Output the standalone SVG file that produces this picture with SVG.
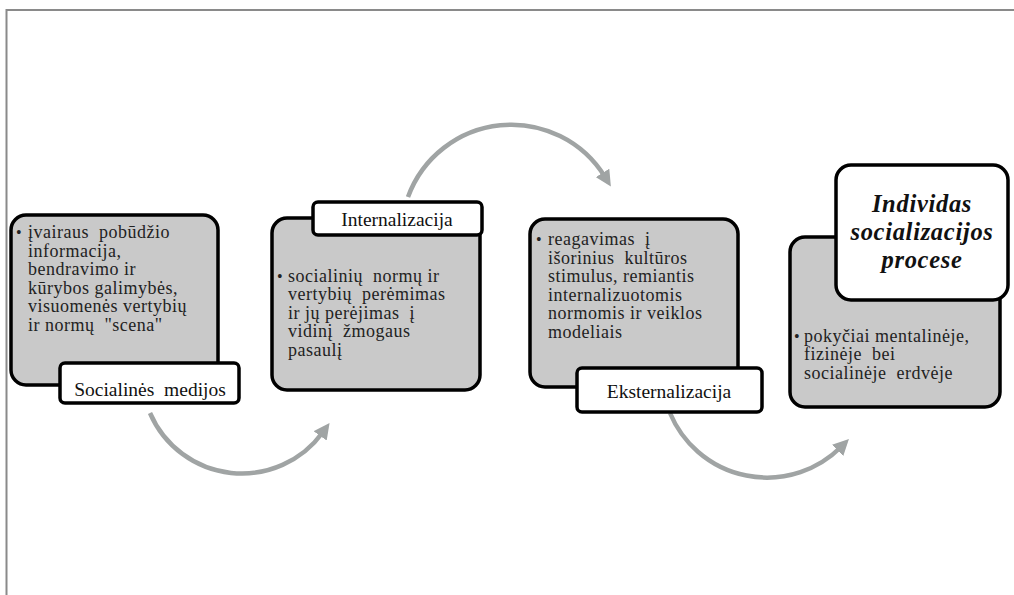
<svg xmlns="http://www.w3.org/2000/svg" width="1014" height="595" viewBox="0 0 1014 595">
<style>
.frame{fill:none;stroke:#8a8a8a;stroke-width:2}
.body{fill:#c9c9c9;stroke:#000;stroke-width:3.5}
.lbl{fill:#fff;stroke:#000;stroke-width:3.5}
.t{font-family:"Liberation Serif","Times New Roman",serif;font-size:18px;letter-spacing:0.5px;fill:#222;white-space:pre}
.lt{font-family:"Liberation Serif","Times New Roman",serif;font-size:19.5px;fill:#111;text-anchor:middle;white-space:pre}
.tt{font-family:"Liberation Serif","Times New Roman",serif;font-size:24.5px;letter-spacing:0.7px;font-weight:bold;font-style:italic;fill:#111;text-anchor:middle}
.bul{font-family:"Liberation Serif",serif;font-size:16px;fill:#222}
.arc{fill:none;stroke:#a0a4a4;stroke-width:4.5}
</style>
<defs>
<marker id="ah" markerUnits="userSpaceOnUse" markerWidth="16" markerHeight="16" viewBox="0 0 10 10" refX="3" refY="5" orient="auto">
<path d="M0,0 L10,5 L0,10 z" fill="#a0a4a4"/>
</marker>
</defs>
<rect width="1014" height="595" fill="#fff"/>
<path class="frame" d="M6.5,595 V10 H1014"/>
<g id="connectors">
<path class="arc" d="M150,413 A100,100 0 0 0 323,432" marker-end="url(#ah)"/>
<path class="arc" d="M408,197 A110,110 0 0 1 605,177" marker-end="url(#ah)"/>
<path class="arc" d="M670,413 A105,105 0 0 0 841,447" marker-end="url(#ah)"/>
</g>
<g id="node1">
<rect class="body" x="11" y="215" width="207" height="170" rx="15"/>
<text class="bul" x="16" y="238">•</text>
<text class="t" x="28" y="238">įvairaus  pobūdžio</text>
<text class="t" x="28" y="257">informacija,</text>
<text class="t" x="28" y="275">bendravimo ir</text>
<text class="t" x="28" y="294">kūrybos galimybės,</text>
<text class="t" x="28" y="312">visuomenės vertybių</text>
<text class="t" x="28" y="331">ir normų  "scena"</text>
<rect class="lbl" x="60" y="363" width="179" height="40" rx="5"/>
<text class="lt" x="150" y="396">Socialinės  medijos</text>
</g>
<g id="node2">
<rect class="body" x="272" y="218" width="208" height="172" rx="15"/>
<text class="bul" x="277" y="282">•</text>
<text class="t" x="288" y="282">socialinių  normų ir</text>
<text class="t" x="288" y="300">vertybių  perėmimas</text>
<text class="t" x="288" y="319">ir jų perėjimas  į</text>
<text class="t" x="288" y="337">vidinį  žmogaus</text>
<text class="t" x="288" y="356">pasaulį</text>
<rect class="lbl" x="313" y="202" width="169" height="33" rx="5"/>
<text class="lt" x="397" y="226">Internalizacija</text>
</g>
<g id="node3">
<rect class="body" x="530" y="219" width="208" height="168" rx="15"/>
<text class="bul" x="536" y="245">•</text>
<text class="t" x="548" y="245">reagavimas  į</text>
<text class="t" x="548" y="264">išorinius  kultūros</text>
<text class="t" x="548" y="282">stimulus, remiantis</text>
<text class="t" x="548" y="301">internalizuotomis</text>
<text class="t" x="548" y="319">normomis ir veiklos</text>
<text class="t" x="548" y="338">modeliais</text>
<rect class="lbl" x="577" y="368" width="185" height="44" rx="5"/>
<text class="lt" x="669" y="398">Eksternalizacija</text>
</g>
<g id="node4">
<rect class="body" x="790" y="237" width="210" height="170" rx="15"/>
<text class="bul" x="794" y="342">•</text>
<text class="t" x="804" y="342">pokyčiai mentalinėje,</text>
<text class="t" x="804" y="360">fizinėje  bei</text>
<text class="t" x="804" y="379">socialinėje  erdvėje</text>
<rect class="lbl" x="836" y="165" width="172" height="135" rx="15"/>
<text class="tt" x="922" y="212">Individas</text>
<text class="tt" x="922" y="240">socializacijos</text>
<text class="tt" x="922" y="268">procese</text>
</g>
</svg>
